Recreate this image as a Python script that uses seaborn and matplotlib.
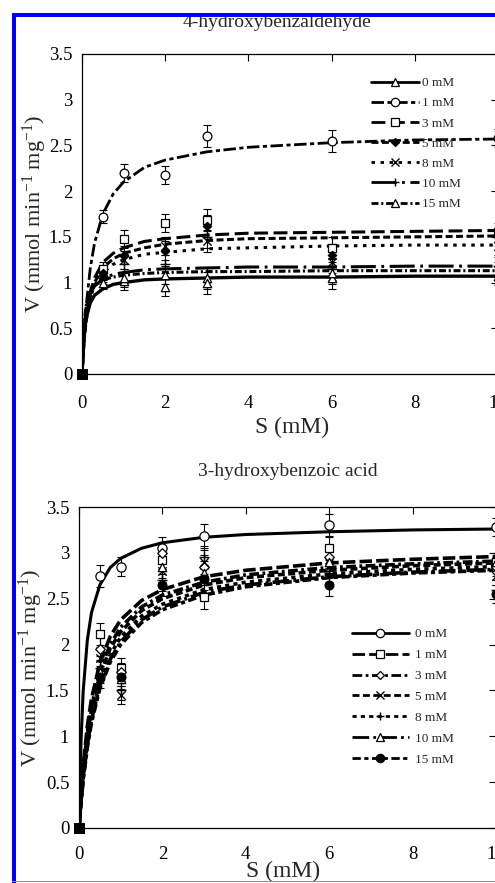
import matplotlib
matplotlib.use("Agg")
import matplotlib.pyplot as plt
import seaborn as sns
from matplotlib.lines import Line2D
from matplotlib.patches import Rectangle

# ---------------- data ----------------
conc_labels = ["0 mM", "1 mM", "3 mM", "5 mM", "8 mM", "10 mM", "15 mM"]

# substrate grid of the fitted curves (mM)
S_fit = [0, 0.05, 0.1, 0.2, 0.3, 0.5, 0.75, 1, 1.5, 2, 3, 4, 6, 8, 10]
# substrate values of the measured points (mM)
S_obs = [0, 0.5, 1, 2, 3, 6, 10]

x_ticks = [0, 2, 4, 6, 8, 10]
x_tick_labels = ["0", "2", "4", "6", "8", "10"]
y_ticks = [0, 0.5, 1, 1.5, 2, 2.5, 3, 3.5]
y_tick_labels = ["0", "0.5", "1", "1.5", "2", "2.5", "3", "3.5"]

# 4-hydroxybenzaldehyde : fitted curves
hbald_fit_0 = [0, 0.42, 0.61, 0.78, 0.86, 0.93, 0.98, 1.00, 1.03, 1.04, 1.05, 1.06, 1.06, 1.07, 1.07]
hbald_fit_1 = [0, 0.43, 0.75, 1.16, 1.43, 1.75, 1.97, 2.10, 2.26, 2.34, 2.43, 2.48, 2.53, 2.56, 2.57]
hbald_fit_3 = [0, 0.39, 0.63, 0.90, 1.05, 1.22, 1.32, 1.38, 1.45, 1.48, 1.52, 1.54, 1.55, 1.56, 1.57]
hbald_fit_5 = [0, 0.36, 0.58, 0.85, 1.00, 1.16, 1.26, 1.32, 1.38, 1.42, 1.46, 1.48, 1.49, 1.50, 1.51]
hbald_fit_8 = [0, 0.37, 0.59, 0.83, 0.97, 1.11, 1.20, 1.25, 1.31, 1.33, 1.37, 1.38, 1.40, 1.41, 1.41]
hbald_fit_10 = [0, 0.50, 0.70, 0.88, 0.96, 1.04, 1.09, 1.11, 1.14, 1.15, 1.16, 1.17, 1.17, 1.18, 1.18]
hbald_fit_15 = [0, 0.56, 0.75, 0.90, 0.97, 1.03, 1.06, 1.08, 1.10, 1.11, 1.12, 1.12, 1.13, 1.13, 1.13]

# 4-hydroxybenzaldehyde : measured points and errors
hbald_obs_0 = [0, 1.12, 1.02, 1.08, 1.05, 1.05, 1.07]
hbald_obs_1 = [0, 1.72, 2.20, 2.18, 2.60, 2.55, 2.58]
hbald_obs_3 = [0, 1.15, 1.48, 1.65, 1.68, 1.38, 1.55]
hbald_obs_5 = [0, 1.10, 1.30, 1.35, 1.62, 1.30, 1.50]
hbald_obs_8 = [0, 1.08, 1.25, 1.40, 1.45, 1.22, 1.40]
hbald_obs_10 = [0, 1.05, 1.20, 1.20, 1.50, 1.15, 1.18]
hbald_obs_15 = [0, 1.00, 1.05, 0.95, 1.00, 1.10, 1.12]
hbald_err = [0, 0.07, 0.10, 0.10, 0.12, 0.12, 0.10]

# 3-hydroxybenzoic acid : fitted curves
hbacid_fit_0 = [0, 0.96, 1.49, 2.05, 2.35, 2.65, 2.84, 2.94, 3.05, 3.11, 3.17, 3.20, 3.23, 3.25, 3.26]
hbacid_fit_1 = [0, 0.38, 0.68, 1.11, 1.41, 1.80, 2.09, 2.27, 2.48, 2.60, 2.74, 2.81, 2.89, 2.93, 2.96]
hbacid_fit_3 = [0, 0.35, 0.63, 1.04, 1.33, 1.72, 2.00, 2.19, 2.41, 2.54, 2.68, 2.76, 2.84, 2.88, 2.91]
hbacid_fit_5 = [0, 0.33, 0.60, 1.00, 1.29, 1.67, 1.96, 2.14, 2.37, 2.50, 2.65, 2.73, 2.81, 2.86, 2.89]
hbacid_fit_8 = [0, 0.31, 0.56, 0.94, 1.22, 1.60, 1.89, 2.08, 2.31, 2.44, 2.60, 2.68, 2.77, 2.82, 2.85]
hbacid_fit_10 = [0, 0.30, 0.54, 0.91, 1.18, 1.55, 1.84, 2.03, 2.27, 2.41, 2.57, 2.65, 2.74, 2.79, 2.82]
hbacid_fit_15 = [0, 0.28, 0.52, 0.88, 1.15, 1.52, 1.81, 2.00, 2.24, 2.38, 2.54, 2.63, 2.73, 2.78, 2.81]

# 3-hydroxybenzoic acid : measured points and errors
hbacid_obs_0 = [0, 2.75, 2.85, 3.05, 3.18, 3.30, 3.28]
hbacid_obs_1 = [0, 2.12, 1.75, 2.92, 2.52, 3.05, 2.90]
hbacid_obs_3 = [0, 1.95, 1.70, 3.00, 2.85, 2.95, 2.85]
hbacid_obs_5 = [0, 1.85, 1.45, 2.80, 2.90, 2.85, 2.75]
hbacid_obs_8 = [0, 1.75, 1.50, 2.70, 2.95, 2.80, 2.60]
hbacid_obs_10 = [0, 1.70, 1.62, 2.85, 2.78, 2.90, 2.90]
hbacid_obs_15 = [0, 1.65, 1.65, 2.65, 2.72, 2.65, 2.55]
hbacid_err = [0, 0.12, 0.10, 0.12, 0.13, 0.12, 0.10]

# ---------------- style ----------------
sns.set_style("white")
plt.rcParams["font.family"] = ["Liberation Serif", "DejaVu Serif"]
plt.rcParams["mathtext.fontset"] = "custom"
plt.rcParams["mathtext.rm"] = "Liberation Serif"
plt.rcParams["mathtext.default"] = "regular"
plt.rcParams["lines.scale_dashes"] = False

W, H = 495, 883
fig = plt.figure(figsize=(W / 100, H / 100), dpi=100)
fig.patch.set_facecolor("white")

ax1 = fig.add_axes([82 / W, (H - 374) / H, 416 / W, 320 / H])
ax2 = fig.add_axes([79 / W, (H - 828) / H, 417 / W, 321 / H])

top_fits = [hbald_fit_0, hbald_fit_1, hbald_fit_3, hbald_fit_5, hbald_fit_8, hbald_fit_10, hbald_fit_15]
top_obs = [hbald_obs_0, hbald_obs_1, hbald_obs_3, hbald_obs_5, hbald_obs_8, hbald_obs_10, hbald_obs_15]
top_ls = ["-", (0, (9, 2.5, 3, 2.5)), (0, (10, 4)), (0, (5, 2.5)), (0, (2.5, 4)),
          (0, (18, 4, 2, 4)), (0, (5, 2, 1.5, 2))]
top_lw = [2.4, 2.0, 2.2, 2.2, 2.2, 2.2, 2.2]
top_mk = ["^", "o", "s", "D", "x", "+", "^"]
top_fill = ["white", "white", "white", "black", None, None, "white"]
top_ms = [36, 40, 36, 18, 36, 50, 36]

bot_fits = [hbacid_fit_0, hbacid_fit_1, hbacid_fit_3, hbacid_fit_5, hbacid_fit_8, hbacid_fit_10, hbacid_fit_15]
bot_obs = [hbacid_obs_0, hbacid_obs_1, hbacid_obs_3, hbacid_obs_5, hbacid_obs_8, hbacid_obs_10, hbacid_obs_15]
bot_ls = ["-", (0, (9, 3)), (0, (7, 2.5, 2, 2.5)), (0, (5, 2.5)), (0, (3, 3)),
          (0, (12, 3, 2, 3)), (0, (6, 2.5, 3, 2.5))]
bot_lw = [2.2, 2.6, 2.6, 2.6, 2.6, 2.6, 2.6]
bot_mk = ["o", "s", "D", "x", "+", "^", "o"]
bot_fill = ["white", "white", "white", None, None, "white", "black"]
bot_ms = [44, 36, 24, 36, 50, 36, 40]


def draw_panel(ax, fits, obs, err, lss, lws, mks, fills, mss):
    for fit, o, ls, lw, mk, fc, ms in zip(fits, obs, lss, lws, mks, fills, mss):
        sns.lineplot(x=S_fit, y=fit, ax=ax, color="black", linestyle=ls, lw=lw,
                     estimator=None, sort=False, legend=False, zorder=2)
        ax.errorbar(S_obs[1:], o[1:], yerr=err[1:], fmt="none", ecolor="black",
                    elinewidth=0.8, capsize=3, capthick=0.8, zorder=3, clip_on=False)
        if fc is None:
            sns.scatterplot(x=S_obs[1:], y=o[1:], ax=ax, marker=mk, s=ms, color="black",
                            linewidth=1.0, zorder=4, legend=False, clip_on=False)
        else:
            sns.scatterplot(x=S_obs[1:], y=o[1:], ax=ax, marker=mk, s=ms, color=fc,
                            edgecolor="black", linewidth=0.9, zorder=4, legend=False,
                            clip_on=False)
        # origin point
        sns.scatterplot(x=S_obs[:1], y=o[:1], ax=ax, marker="s", s=60, color="black",
                        edgecolor="black", zorder=5, legend=False, clip_on=False)

    ax.set_xlim(0, 10)
    ax.set_ylim(0, 3.5)
    ax.set_xticks(x_ticks)
    ax.set_xticklabels(x_tick_labels)
    ax.set_yticks(y_ticks)
    ax.set_yticklabels(y_tick_labels)
    ax.tick_params(direction="in", length=5, width=0.8, top=True, right=True,
                   labelsize=13.5, colors="black")
    for sp in ax.spines.values():
        sp.set_linewidth(0.9)
        sp.set_color("black")
        sp.set_visible(True)
    ax.set_facecolor("white")
    ax.grid(False)


draw_panel(ax1, top_fits, top_obs, hbald_err, top_ls, top_lw, top_mk, top_fill, top_ms)
draw_panel(ax2, bot_fits, bot_obs, hbacid_err, bot_ls, bot_lw, bot_mk, bot_fill, bot_ms)

ax1.tick_params(axis="x", pad=15)
ax1.tick_params(axis="y", pad=7)
ax2.tick_params(axis="x", pad=13)
ax2.tick_params(axis="y", pad=7)

ylabel = r"V (mmol min$^{-1}$ mg$^{-1}$)"
for ax, xy_x, xy_y, yl_x in [(ax1, 0.504, -0.184, -0.08), (ax2, 0.49, -0.153, -0.082)]:
    ax.set_xlabel("S (mM)", fontsize=17)
    ax.xaxis.label.set_va("baseline")
    ax.xaxis.set_label_coords(xy_x, xy_y)
    ax.set_ylabel(ylabel, fontsize=16)
    ax.yaxis.set_label_coords(yl_x, 0.5)

fig.text(277 / W, 1 - 27 / H, "4-hydroxybenzaldehyde", ha="center", va="baseline", fontsize=14)
fig.text(288 / W, 1 - 476 / H, "3-hydroxybenzoic acid", ha="center", va="baseline", fontsize=14)


def make_handles(lss, lws, mks, fills):
    hs = []
    for ls, lw, mk, fc in zip(lss, lws, mks, fills):
        if fc is None:
            hs.append(Line2D([], [], color="black", linestyle=ls, lw=lw, marker=mk,
                             markersize=6, markeredgecolor="black", markeredgewidth=1.0))
        else:
            hs.append(Line2D([], [], color="black", linestyle=ls, lw=lw, marker=mk,
                             markersize=6 if mk != "D" else 4, markerfacecolor=fc,
                             markeredgecolor="black", markeredgewidth=0.9))
    return hs


leg1 = ax1.legend(make_handles(top_ls, [2.0] * 7, top_mk, top_fill), conc_labels,
                  loc="upper left", bbox_to_anchor=(371 / W, 1 - 77 / H),
                  bbox_transform=fig.transFigure, frameon=False, fontsize=9.5,
                  handlelength=3.6, handletextpad=0.3, labelspacing=0.6,
                  borderpad=0, borderaxespad=0, numpoints=1)
leg2 = ax2.legend(make_handles(bot_ls, [2.0] * 7, bot_mk, bot_fill), conc_labels,
                  loc="upper left", bbox_to_anchor=(352 / W, 1 - 628 / H),
                  bbox_transform=fig.transFigure, frameon=False, fontsize=9.5,
                  handlelength=4.3, handletextpad=0.5, labelspacing=0.66,
                  borderpad=0, borderaxespad=0, numpoints=1)

# blue selection frame of the source image
fig.add_artist(Rectangle((12 / W, 0), 4 / W, (H - 13) / H, transform=fig.transFigure,
                         facecolor="#0000ff", edgecolor="none", zorder=20))
fig.add_artist(Rectangle((12 / W, (H - 17) / H), (W - 12) / W, 4 / H, transform=fig.transFigure,
                         facecolor="#0000ff", edgecolor="none", zorder=20))
fig.add_artist(Rectangle((12 / W, (H - 882) / H), (W - 12) / W, 1 / H, transform=fig.transFigure,
                         facecolor="#8080ff", edgecolor="none", zorder=20))

fig.savefig("out.png", dpi=100, facecolor="white")
